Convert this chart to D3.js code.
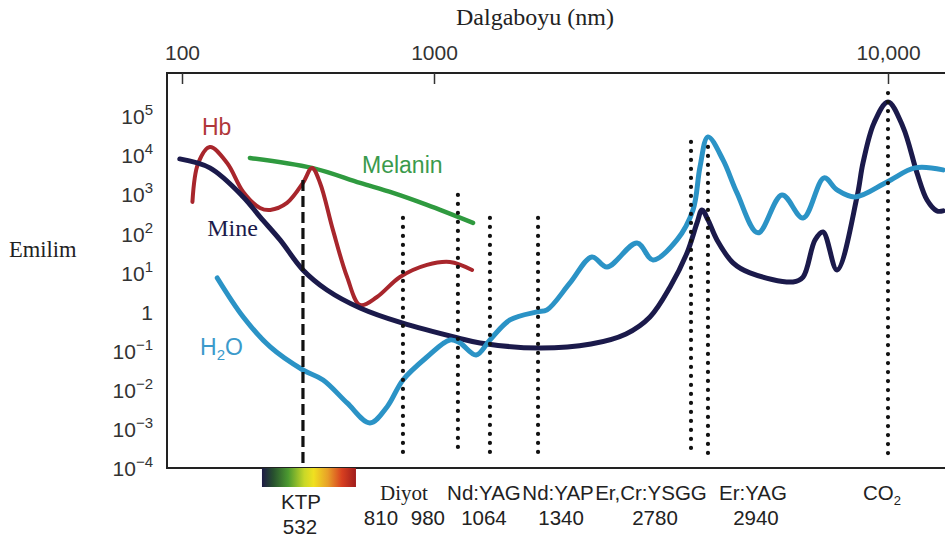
<!DOCTYPE html>
<html>
<head>
<meta charset="utf-8">
<script src="https://cdn.jsdelivr.net/npm/d3@7"></script>
<style>
  body { margin: 0; background: #fff; }
  svg { display: block; }
</style>
</head>
<body>
<div id="chart"></div>
<script>
// absorption curves: wavelength (nm, as placed on the schematic axis) / absorption
const hbNm = [110, 116, 129, 151, 175, 204, 224, 261, 302, 328, 353, 397, 452, 509, 594, 733, 938, 1084, 1213];
const hbAbs = [674, 6700, 17200, 6700, 1214, 473, 421, 635, 2065, 4990, 2065, 130, 8.1, 1.56, 2.5, 8.1, 16.5, 19.7, 12.3];

const melNm = [186, 328, 509, 688, 938, 1219];
const melAbs = [9000, 4990, 2065, 1145, 565, 196];

const mineNm = [98, 129, 175, 204, 245, 302, 376, 509, 746, 1129, 1263, 1703, 2217, 2648, 2990, 3311, 3608, 3796, 3893,
  4013, 4201, 4557, 4966, 6176, 6499, 6906, 7192, 7722, 8545, 8809, 9316, 10000, 10790, 11584, 12190, 12820, 13216];
const mineAbs = [8480, 4990, 905, 279, 71.9, 12.3, 3.78, 1.31, 0.542, 0.224, 0.167, 0.124, 0.157, 0.284, 0.771, 4.52, 33.4, 196, 421,
  233, 71.9, 18.6, 10.3, 6.06, 8.1, 71.9, 115, 12.3, 905, 6700, 70600, 243000, 55800, 3720, 758, 397, 397];

const h2oNm = [138, 175, 224, 302, 363, 452, 557, 651, 753, 938, 1084, 1141, 1238, 1328, 1470, 1686, 1774, 1993, 2228,
  2405, 2800, 3036, 3429, 3720, 3854, 4013, 4331, 4649, 5172, 5842, 6499, 7228, 7722, 8459, 9950, 11468, 13216];
const h2oAbs = [7.67, 0.771, 0.132, 0.034, 0.0189, 0.00488, 0.0015, 0.00386, 0.0189, 0.0731, 0.199, 0.167, 0.0824, 0.199, 0.647, 1.04, 1.17, 5.71, 26.4,
  14.7, 60.3, 22.1, 71.9, 421, 5300, 31000, 8000, 1145, 109, 1018, 262, 2770, 1366, 905, 2190, 4990, 4440];

// laser lines
const laserNames = ['KTP', 'Diyot', 'Nd:YAG', 'Nd:YAP', 'Er,Cr:YSGG', 'Er:YAG', 'CO2'];
const lineLaser = [0, 1, 1, 2, 3, 4, 5, 6];
const lineLabels = ['532', '810', '980', '1064', '1340', '2780', '2940', ''];
const lineAt = [302, 753, 1129, 1328, 1695, 3682, 4013, 10000];
const lineTop = [2460, 262, 1018, 262, 262, 23000, 17200, 410000];

// axes
const xTicks = [100, 1000, 10000];
const xTickLabels = ['100', '1000', '10,000'];
const yExps = [-4, -3, -2, -1, 0, 1, 2, 3, 4, 5];

const width = 945;
const height = 543;
const box = { left: 167, top: 73, right: 945, bottom: 468 };
const sans = "'Liberation Sans', Arial, sans-serif";
const serif = "'Liberation Serif', 'Times New Roman', serif";

// schematic axis: decades are not equally spaced in the figure
const x = d3.scaleLog().domain([100, 1000, 10000]).range([182, 434, 888]);
const y = d3.scaleLog().domain([1e-4, 1e5]).range([469, 117]);

const svg = d3.select('#chart').append('svg')
  .attr('width', width)
  .attr('height', height);

// frame
const frame = svg.append('g').attr('stroke', '#222').attr('stroke-width', 2);
frame.append('line').attr('x1', box.left).attr('x2', box.right).attr('y1', box.top).attr('y2', box.top);
frame.append('line').attr('x1', box.left).attr('x2', box.right).attr('y1', box.bottom).attr('y2', box.bottom);
frame.append('line').attr('x1', box.left).attr('x2', box.left).attr('y1', box.top - 1).attr('y2', box.bottom + 1);

// top axis
const xAxis = svg.append('g')
  .attr('transform', 'translate(0,' + box.top + ')')
  .call(d3.axisTop(x)
    .tickValues(xTicks)
    .tickFormat(function (d, i) { return xTickLabels[i]; })
    .tickSizeInner(-11)
    .tickSizeOuter(0)
    .tickPadding(13));
xAxis.select('.domain').remove();
xAxis.selectAll('line').attr('stroke', '#333').attr('stroke-width', 1.5);
xAxis.selectAll('text')
  .attr('font-family', sans)
  .attr('font-size', 21)
  .attr('fill', '#333');

// left axis labels (no ticks)
const yAxis = svg.append('g')
  .attr('transform', 'translate(' + box.left + ',0)')
  .call(d3.axisLeft(y)
    .tickValues(yExps.map(function (e) { return Math.pow(10, e); }))
    .tickSize(0)
    .tickPadding(14));
yAxis.select('.domain').remove();
yAxis.selectAll('text')
  .attr('font-family', sans)
  .attr('font-size', 21)
  .attr('fill', '#333')
  .text(null)
  .each(function (d, i) {
    const t = d3.select(this);
    const e = yExps[i];
    if (e === 0) { t.append('tspan').text('1'); return; }
    t.append('tspan').text('10');
    t.append('tspan')
      .attr('font-size', 15)
      .attr('dy', -9)
      .text(e < 0 ? '\u2212' + (-e) : String(e));
  });

// axis titles
svg.append('text')
  .attr('x', 535)
  .attr('y', 25)
  .attr('text-anchor', 'middle')
  .attr('font-family', serif)
  .attr('font-size', 24)
  .attr('fill', '#222')
  .text('Dalgaboyu (nm)');

svg.append('text')
  .attr('x', 9)
  .attr('y', 257)
  .attr('font-family', serif)
  .attr('font-size', 22.5)
  .attr('fill', '#222')
  .text('Emilim');

// curves
const line = d3.line()
  .x(function (d) { return x(d[0]); })
  .y(function (d) { return y(d[1]); })
  .curve(d3.curveCatmullRom.alpha(0.5));

const curves = [
  { nm: melNm, abs: melAbs, color: '#2f9a3f', w: 4.5 },
  { nm: hbNm, abs: hbAbs, color: '#a8262c', w: 4 },
  { nm: mineNm, abs: mineAbs, color: '#1b1a4b', w: 5 },
  { nm: h2oNm, abs: h2oAbs, color: '#2b93c6', w: 5 }
];

svg.append('g').selectAll('path')
  .data(curves)
  .enter().append('path')
  .attr('d', function (c) { return line(c.nm.map(function (n, i) { return [n, c.abs[i]]; })); })
  .attr('fill', 'none')
  .attr('stroke', function (c) { return c.color; })
  .attr('stroke-width', function (c) { return c.w; })
  .attr('stroke-linecap', 'round')
  .attr('stroke-linejoin', 'round');

// curve names, anchored in data space
const names = [
  { text: 'Hb', nm: 120, v: 5.6e4, color: '#b0383a', font: sans, size: 23 },
  { text: 'Melanin', nm: 518, v: 6000, color: '#3a9a4c', font: sans, size: 23 },
  { text: 'Mine', nm: 126, v: 146, color: '#1b1a4b', font: serif, size: 24 }
];
svg.append('g').selectAll('text')
  .data(names)
  .enter().append('text')
  .attr('x', function (d) { return x(d.nm); })
  .attr('y', function (d) { return y(d.v); })
  .attr('dy', '0.35em')
  .attr('font-family', function (d) { return d.font; })
  .attr('font-size', function (d) { return d.size; })
  .attr('fill', function (d) { return d.color; })
  .text(function (d) { return d.text; });

const h2oLabel = svg.append('text')
  .attr('x', x(118))
  .attr('y', y(0.132))
  .attr('dy', '0.35em')
  .attr('font-family', sans)
  .attr('font-size', 23)
  .attr('fill', '#3b9acb');
h2oLabel.append('tspan').text('H');
h2oLabel.append('tspan').attr('font-size', 15).attr('dy', 5).text('2');
h2oLabel.append('tspan').attr('dy', -5).text('O');

// visible spectrum bar under KTP
const grad = svg.append('defs').append('linearGradient').attr('id', 'spectrum');
[['0%', '#1e1b45'], ['12%', '#27502e'], ['28%', '#4c9a30'], ['45%', '#c8d828'], ['55%', '#f0e020'],
  ['70%', '#e8a028'], ['85%', '#d84020'], ['100%', '#a01c1c']].forEach(function (s) {
  grad.append('stop').attr('offset', s[0]).attr('stop-color', s[1]);
});
svg.append('rect')
  .attr('x', x(lineAt[0]) - 41)
  .attr('y', box.bottom)
  .attr('width', 94)
  .attr('height', 19)
  .attr('fill', 'url(#spectrum)');

// laser lines
svg.append('g').selectAll('line')
  .data(lineAt)
  .enter().append('line')
  .attr('x1', function (d) { return x(d); })
  .attr('x2', function (d) { return x(d); })
  .attr('y1', function (d, i) { return y(lineTop[i]); })
  .attr('y2', function (d, i) { return i === 0 ? box.bottom : y(2.2e-4); })
  .attr('stroke', '#111')
  .attr('stroke-width', function (d, i) { return i === 0 ? 3.2 : 4.2; })
  .attr('stroke-linecap', function (d, i) { return i === 0 ? 'butt' : 'round'; })
  .attr('stroke-dasharray', function (d, i) { return i === 0 ? '11,5' : '0,9'; });

// laser names and wavelengths below the axis
const firstLine = laserNames.map(function (n, k) { return lineLaser.indexOf(k); });
const nameDx = [-2, 1, -6, 20, -40, 45, -6];
const nameY = [509, 500, 500, 500, 500, 500, 500];
const nameFont = [sans, serif, sans, sans, sans, sans, sans];

svg.append('g').selectAll('text')
  .data(laserNames)
  .enter().append('text')
  .attr('x', function (d, k) { return x(lineAt[firstLine[k]]) + nameDx[k]; })
  .attr('y', function (d, k) { return nameY[k]; })
  .attr('text-anchor', 'middle')
  .attr('font-family', function (d, k) { return nameFont[k]; })
  .attr('font-size', function (d, k) { return k === 1 ? 21 : 20.5; })
  .attr('fill', '#222')
  .each(function (d) {
    const t = d3.select(this);
    if (d === 'CO2') {
      t.append('tspan').text('CO');
      t.append('tspan').attr('font-size', 13).attr('dy', 5).text('2');
    } else {
      t.text(d);
    }
  });

const numDx = [-3, -22, -30, -6, 23, -36, 48, 0];
svg.append('g').selectAll('text')
  .data(lineLabels)
  .enter().append('text')
  .attr('x', function (d, i) { return x(lineAt[i]) + numDx[i]; })
  .attr('y', function (d, i) { return i === 0 ? 534 : 525; })
  .attr('text-anchor', 'middle')
  .attr('font-family', sans)
  .attr('font-size', 20.5)
  .attr('fill', '#222')
  .text(function (d) { return d; });
</script>
</body>
</html>
